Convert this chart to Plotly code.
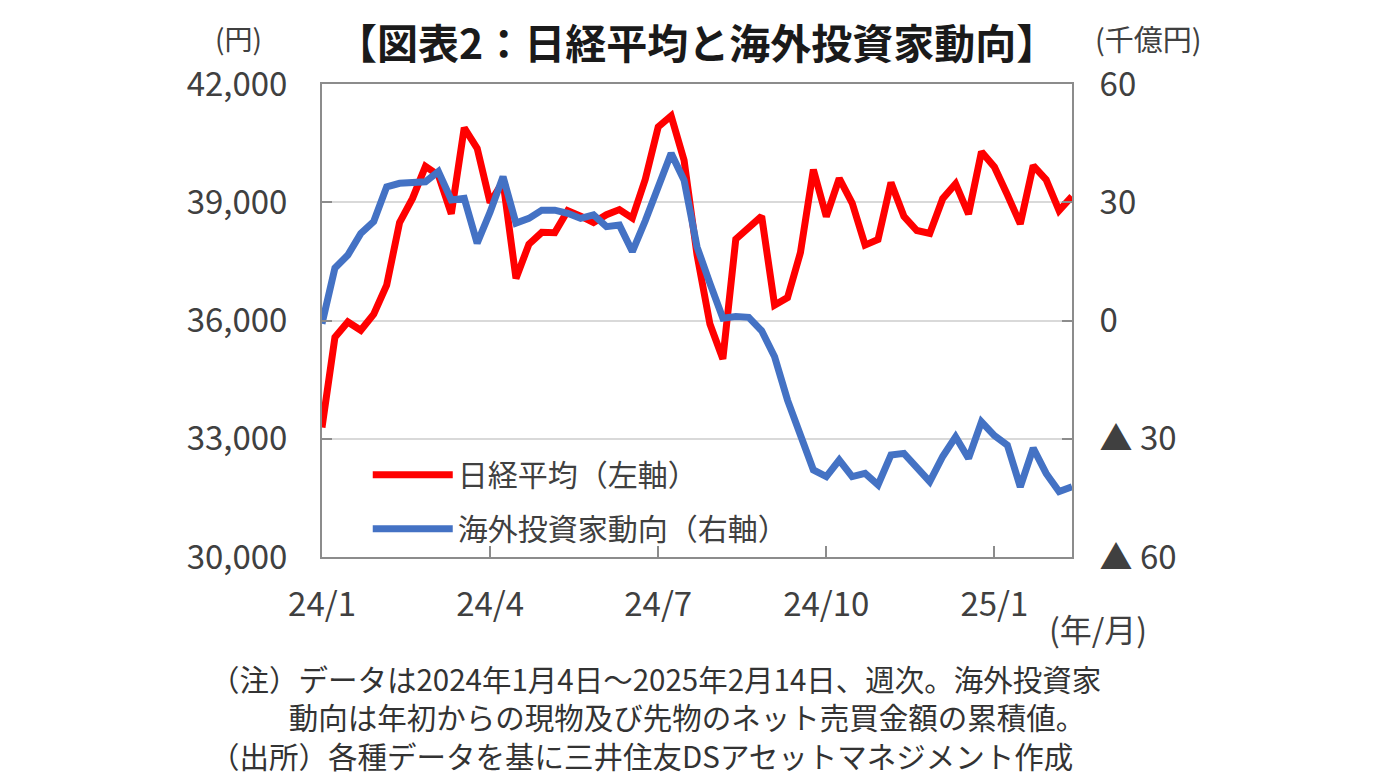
import pandas as pd
import plotly.graph_objects as go

# weekly dates (first point 2024/1/4, then Fridays up to 2025/2/14)
dates = ["2024-01-04"] + [d.strftime("%Y-%m-%d") for d in pd.date_range("2024-01-12", "2025-02-14", freq="W-FRI")]

# 日経平均 (円)
nikkei = [33288, 35577, 35963, 35751, 36158, 36897, 38487, 39098, 39910, 39688,
          38707, 40888, 40369, 38992, 39523, 37068, 37934, 38236, 38229, 38787,
          38646, 38487, 38683, 38814, 38596, 39583, 40912, 41190, 40063, 37667,
          35909, 35025, 38062, 38364, 38647, 36391, 36581, 37723, 39829, 38635,
          39605, 38981, 37913, 38053, 39500, 38642, 38283, 38208, 39091, 39470,
          38701, 40281, 39894, 39190, 38451, 39931, 39572, 38787, 39149]

# 海外投資家動向 (千億円, 年初からの累積)
foreign = [-0.8, 13.3, 16.6, 22.1, 25.1, 33.9, 34.8, 35.2, 35.2, 37.8,
           30.6, 31.0, 19.6, 27.5, 36.5, 24.7, 25.9, 28.0, 28.0, 27.2,
           25.9, 26.8, 23.8, 24.2, 17.5, 25.3, 33.9, 42.4, 35.6, 18.7,
           9.4, 0.6, 1.0, 0.8, -2.6, -9.2, -20.2, -28.6, -37.9, -39.6,
           -35.4, -39.6, -38.8, -41.7, -34.1, -33.7, -37.2, -40.9, -34.5, -29.5,
           -35.0, -25.7, -29.2, -31.6, -42.2, -32.4, -38.8, -43.4, -42.2]

x_tick_idx = [0, 13, 26, 39, 52]
x_tick_text = ["24/1", "24/4", "24/7", "24/10", "25/1"]
right_vals = [-60, -30, 0, 30, 60]
right_text = ["▲ 60", "▲ 30", "0", "30", "60"]

FONT = "Noto Sans CJK JP"
TXT = "#404040"
AXIS = "#8c8c8c"

fig = go.Figure()
fig.add_trace(go.Scatter(x=dates, y=nikkei, name="日経平均（左軸）", mode="lines",
                         line=dict(color="#ff0000", width=7), legendgroup="a"))
fig.add_trace(go.Scatter(x=dates, y=foreign, name="海外投資家動向（右軸）", mode="lines",
                         line=dict(color="#4472c4", width=7), yaxis="y2", legendgroup="b"))

# the page body adds ~8px, margins are offset for that
fig.update_layout(
    width=1386, height=779,
    margin=dict(l=314, r=322, t=76, b=230),
    paper_bgcolor="white", plot_bgcolor="white",
    font=dict(family=FONT, size=28, color=TXT),
    xaxis=dict(type="category", range=[0, len(dates) - 1],
               tickvals=[dates[i] for i in x_tick_idx], ticktext=x_tick_text,
               ticks="inside", ticklen=11, tickwidth=2, tickcolor=AXIS,
               showline=True, linecolor=AXIS, linewidth=2, mirror=True,
               showgrid=False, ticklabelstandoff=17,
               tickfont=dict(size=33, color=TXT)),
    yaxis=dict(range=[30000, 42000], dtick=3000, tickformat=",",
               ticks="inside", ticklen=10, tickwidth=2, tickcolor=AXIS,
               showline=True, linecolor=AXIS, linewidth=2,
               showgrid=True, gridcolor="#d9d9d9", gridwidth=2,
               zeroline=False, ticklabelstandoff=26,
               tickfont=dict(size=33, color=TXT)),
    yaxis2=dict(range=[-60, 60], tickvals=right_vals, ticktext=right_text,
                overlaying="y", side="right",
                ticks="inside", ticklen=10, tickwidth=2, tickcolor=AXIS,
                showline=True, linecolor=AXIS, linewidth=2,
                showgrid=False, zeroline=False, ticklabelstandoff=19,
                tickfont=dict(size=33, color=TXT)),
    legend=dict(x=0.061, y=0.229, xanchor="left", yanchor="top",
                bgcolor="rgba(0,0,0,0)", font=dict(size=30, color=TXT),
                itemwidth=80, tracegroupgap=12, traceorder="grouped"),
    showlegend=True,
)

def px_x(p):
    return (p - 322) / 750

def px_y(p):
    return (557 - p) / 473

NB = "\u00a0"
labels = [
    ("<b>【図表2：日経平均と海外投資家動向】</b>", 696, 41, "center", 41, "#1a1a1a"),
    ("(円)", 238, 38, "center", 28, TXT),
    ("(千億円)", 1148, 38, "center", 29, TXT),
    ("(年/月)", 1098, 628, "center", 32, TXT),
    ("（注）データは2024年1月4日～2025年2月14日、週次。海外投資家<br>"
     "　　" + NB * 3 + "動向は年初からの現物及び先物のネット売買金額の累積値。<br>"
     "（出所）各種データを基に三井住友DSアセットマネジメント作成",
     208, 716, "left", 29.5, "#333333"),
]
for text, x, y, anchor, size, color in labels:
    fig.add_annotation(text=text, x=px_x(x), y=px_y(y), xref="paper", yref="paper",
                       xanchor=anchor, yanchor="middle", align="left", showarrow=False,
                       font=dict(size=size, color=color, family=FONT))

fig.write_html("out.html")
